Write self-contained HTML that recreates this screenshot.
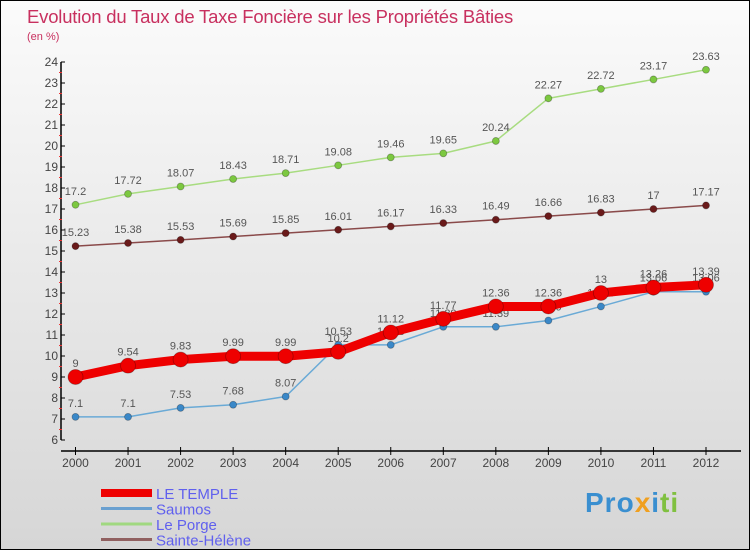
<!DOCTYPE html>
<html><head><meta charset="utf-8"><style>
body{margin:0}
#c{width:748px;height:548px;border:1px solid #000;background:linear-gradient(#fbfbfb,#d6d6d6);position:relative;overflow:hidden;font-family:"Liberation Sans",sans-serif}
</style></head><body>
<div id="c">
<svg id="s" width="748" height="548">
<text x="26" y="22" font-size="18.5" fill="#c8305f" letter-spacing="-0.2">Evolution du Taux de Taxe Foncière sur les Propriétés Bâties</text>
<text x="26" y="39" font-size="11" fill="#c8305f">(en %)</text>
<g id="axes"></g><g id="series"></g>
</svg>
<div style="position:absolute;left:584px;top:486px;font-size:28px;font-weight:bold;letter-spacing:1px"><span style="color:#3a8fd0">Pro</span><span style="color:#f0a020">x</span><span style="color:#3a8fd0">i</span><span style="color:#80c040">ti</span></div>
</div>
<script>
const years=[2000,2001,2002,2003,2004,2005,2006,2007,2008,2009,2010,2011,2012];
const temple=[9,9.54,9.83,9.99,9.99,10.2,11.12,11.77,12.36,12.36,13,13.26,13.39];
const saumos=[7.1,7.1,7.53,7.68,8.07,10.53,10.53,11.39,11.39,11.69,12.36,13.06,13.06];
const porge=[17.2,17.72,18.07,18.43,18.71,19.08,19.46,19.65,20.24,22.27,22.72,23.17,23.63];
const helene=[15.23,15.38,15.53,15.69,15.85,16.01,16.17,16.33,16.49,16.66,16.83,17,17.17];
const yTicks=[6,7,8,9,10,11,12,13,14,15,16,17,18,19,20,21,22,23,24];
const NS="http://www.w3.org/2000/svg";
const X=i=>74.5+i*(630.5/12);
const Y=v=>439-(v-6)*(378/18);
function mk(t,a,p){const e=document.createElementNS(NS,t);for(const k in a)e.setAttribute(k,a[k]);p.appendChild(e);return e;}
const ax=document.getElementById('axes'),sg=document.getElementById('series');
let l=mk('line',{x1:60,y1:Y(24),x2:60,y2:Y(6),stroke:'#000','stroke-width':1.5},ax);


l=mk('line',{x1:60,y1:450,x2:740,y2:450,stroke:'#000','stroke-width':1.5},ax);


yTicks.forEach(v=>{
 mk('line',{x1:60,y1:Y(v),x2:64,y2:Y(v),stroke:'#000'},ax);
 if(v<24)mk('line',{x1:58,y1:Y(v+0.5),x2:61,y2:Y(v+0.5),stroke:'#e33'},ax);
 const t=mk('text',{x:57,y:Y(v)+4,'font-size':12,'text-anchor':'end',fill:'#444'},ax);t.textContent=v;
 
 
});
years.forEach((yr,i)=>{
 mk('line',{x1:X(i),y1:446,x2:X(i),y2:454,stroke:'#000'},ax);
 const t=mk('text',{x:X(i),y:466,'font-size':12,'text-anchor':'middle',fill:'#444'},ax);t.textContent=yr;
 
 
});
function series(d,name,col,w,r,fill){
 const g=mk('g',{},sg);
 
 
 const pl=mk('polyline',{points:d.map((v,i)=>X(i)+','+Y(v)).join(' '),fill:'none',stroke:col,'stroke-width':w,'stroke-linejoin':'round'},g);
 
 
 d.forEach((v,i)=>{
  const c=mk('circle',{cx:X(i),cy:Y(v),r:r,fill:fill,stroke:'rgba(0,0,0,0.3)','stroke-width':0.8},g);
  
  
  const t=mk('text',{x:X(i),y:Y(v)-10,'font-size':11,'text-anchor':'middle',fill:'#555'},g);t.textContent=v;
  
  
 });
}
series(porge,'le-porge','#a8dc80',1.5,3.5,'#7cc840');
series(helene,'sainte-helene','#8a4a4a',1.5,3.5,'#6a1a1a');
series(saumos,'saumos','#6aaad6',1.5,3.5,'#3a88c8');
series(temple,'le-temple','#ee0000',9,7.5,'#ee0000');
const leg=[['LE TEMPLE','#ee0000',8],['Saumos','#6aa0d0',3],['Le Porge','#a0d880',3],['Sainte-Hélène','#906060',3]];
leg.forEach((e,i)=>{
 const y=492+i*15.5;
 const g=mk('g',{},sg);
 
 
 mk('line',{x1:100,y1:y,x2:151,y2:y,stroke:e[1],'stroke-width':e[2]},g);
 const t=mk('text',{x:155,y:y+6,'font-size':15,fill:'#6060ee'},g);t.textContent=e[0];
});
</script>
</body></html>
